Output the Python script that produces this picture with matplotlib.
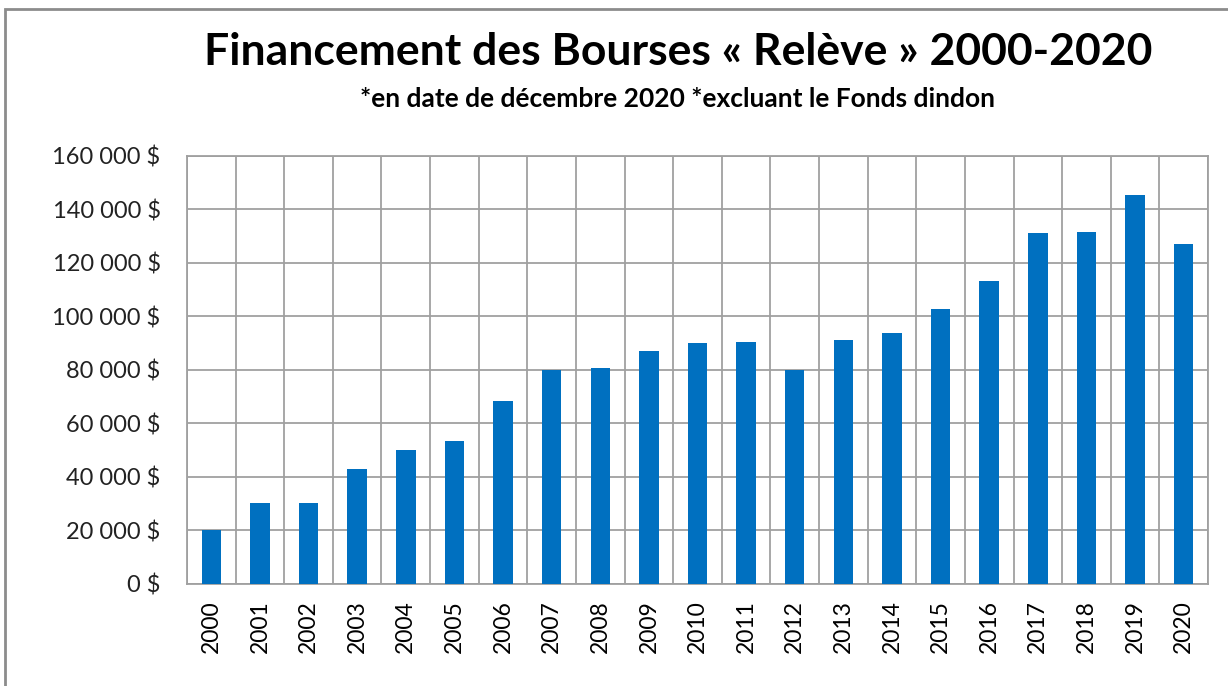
import matplotlib
matplotlib.use("Agg")
import matplotlib.pyplot as plt
from matplotlib.ticker import FuncFormatter, MultipleLocator, FixedLocator
from matplotlib.patches import Rectangle
import numpy as np

plt.rcParams['font.family'] = ['Lato', 'DejaVu Sans']

years = [str(y) for y in range(2000, 2021)]
amounts = [20000, 30000, 30000, 43000, 50000, 53300, 68200, 79800, 80600, 86900,
           89800, 90200, 80000, 91200, 93600, 102700, 113300, 131000, 131500, 145400, 127100]

title = "Financement des Bourses « Relève » 2000-2020"
subtitle = "*en date de décembre 2020 *excluant le Fonds dindon"

W, H = 1228, 686
fig = plt.figure(figsize=(W/100, H/100), dpi=100)
fig.patch.set_facecolor('white')

# outer chart border (cropped on right/bottom)
fig.add_artist(Rectangle((5/W, -0.05), 1.2, 1 - 9/H + 0.05, transform=fig.transFigure,
                         fill=False, edgecolor='#8c8c8c', linewidth=2.0))

ax = fig.add_axes([187/W, 1 - 583.7/H, (1208 - 187)/W, (583.7 - 155.7)/H])
x = np.arange(len(years))
ax.bar(x, amounts, width=0.4, color='#0070C0', zorder=3)

ax.set_xlim(-0.5, len(years) - 0.5)
ax.set_ylim(0, 160000)
ax.yaxis.set_major_locator(MultipleLocator(20000))
ax.yaxis.set_major_formatter(FuncFormatter(lambda v, p: f"{int(v):,} $".replace(",", " ")))
ax.set_xticks(x)
ax.set_xticklabels(years, rotation=90)
ax.xaxis.set_minor_locator(FixedLocator(np.arange(-0.5, len(years), 1.0)))

grid_c = '#a0a0a0'
ax.grid(axis='y', which='major', color=grid_c, linewidth=1.3, zorder=0)
ax.grid(axis='x', which='minor', color=grid_c, linewidth=1.3, zorder=0)
ax.grid(axis='x', which='major', visible=False)
for s in ax.spines.values():
    s.set_color(grid_c)
    s.set_linewidth(1.3)
ax.tick_params(axis='both', which='both', length=0)
ax.tick_params(axis='y', labelsize=17, pad=19, colors='#222222')
ax.tick_params(axis='x', labelsize=16.5, pad=12, colors='black')

fig.text(678/W, 1 - 52/H, title, ha='center', va='center', fontsize=32, fontweight='bold')
fig.text(678/W, 1 - 99/H, subtitle, ha='center', va='center', fontsize=19, fontweight='bold')

fig.savefig("out.png", dpi=100, facecolor='white')
